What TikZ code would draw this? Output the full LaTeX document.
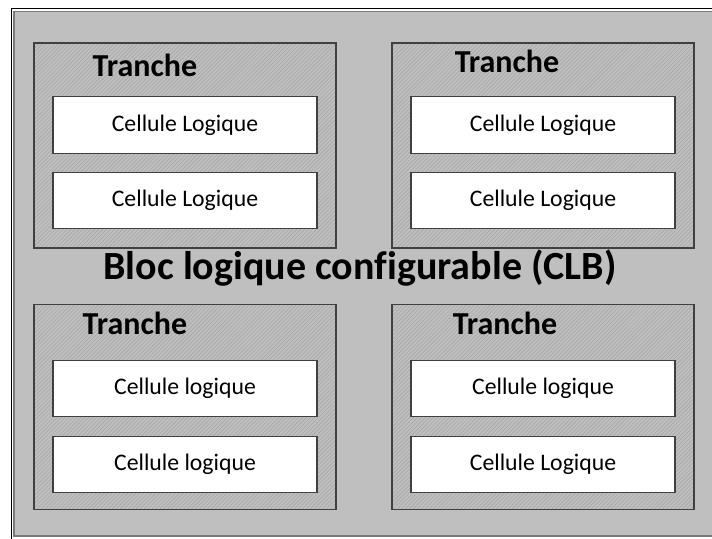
\documentclass[tikz,border=0pt]{standalone}
\usepackage{fontspec}
\setmainfont{Carlito}[Ligatures=CommonOff]
\usetikzlibrary{patterns.meta}

\definecolor{clbgray}{RGB}{191,191,191}
\definecolor{edgegray}{RGB}{64,64,64}

\begin{document}
\begin{tikzpicture}[x=0.75pt, y=-0.75pt,
	tranche/.style={draw=edgegray, line width=0.9pt, fill=white,
		pattern={Lines[angle=45,distance=2.1pt,line width=0.45pt]}, pattern color=gray!70,
		minimum width=226.5pt, minimum height=153.75pt, inner sep=0pt},
	cellule/.style={draw=edgegray, line width=0.9pt, fill=white,
		minimum width=198pt, minimum height=42.4pt, inner sep=0pt,
		font=\fontsize{17.8}{20}\selectfont},
	titre/.style={anchor=base, font=\fontsize{24}{26}\selectfont\bfseries}]
	\useasboundingbox (0,0) rectangle (712,538);

	% cadre du CLB
	\draw[line width=1.1pt] (11.5,8.5) rectangle (730,560);
	\fill[clbgray] (14,11.5) rectangle (712,536);
	\draw[edgegray!70, line width=0.8pt] (14,11.5) -- (712,11.5);
	\draw[edgegray!70, line width=0.8pt] (14,11.5) -- (14,536) -- (712,536);

	\node[tranche] (t1) at (185,145.5) {};
	\node[tranche] (t2) at (543,145.5) {};
	\node[tranche] (t3) at (185,407)   {};
	\node[tranche] (t4) at (543,407)   {};

	\node[titre] (l1) at (145,77)  {Tranche};
	\node[titre] (l2) at (507,73)  {Tranche};
	\node[titre] (l3) at (135,334) {Tranche};
	\node[titre] (l4) at (505,334) {Tranche};

	\node[cellule] (c11) at (185,125)   {Cellule Logique};
	\node[cellule] (c12) at (185,200.5) {Cellule Logique};
	\node[cellule] (c21) at (543,125)   {Cellule Logique};
	\node[cellule] (c22) at (543,200.5) {Cellule Logique};
	\node[cellule] (c31) at (185,388.5) {Cellule logique};
	\node[cellule] (c32) at (185,464.5) {Cellule logique};
	\node[cellule] (c41) at (543,388.5) {Cellule logique};
	\node[cellule] (c42) at (543,464.5) {Cellule Logique};

	\node[anchor=base, font=\fontsize{30}{32}\selectfont\bfseries] (clb) at (360,279)
		{Bloc logique configurable (CLB)};
\end{tikzpicture}
\end{document}
